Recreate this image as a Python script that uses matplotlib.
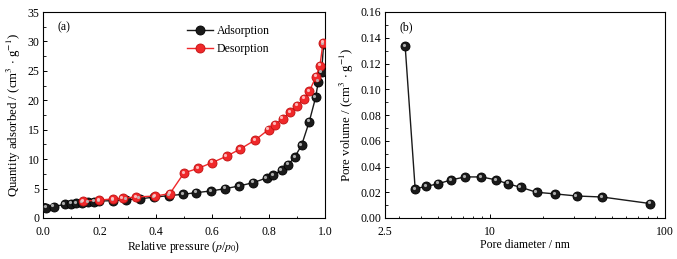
import matplotlib
matplotlib.use("Agg")
import matplotlib.pyplot as plt
import matplotlib.transforms as mtransforms
from matplotlib.ticker import MultipleLocator, FixedLocator, NullFormatter, LogLocator

plt.rcParams['font.family'] = ['Liberation Serif', 'DejaVu Serif']
plt.rcParams['mathtext.fontset'] = 'stix'

# Panel (a): N2 isotherm
ads_p = [0.012, 0.038, 0.077, 0.099, 0.118, 0.14, 0.16, 0.18, 0.20, 0.249, 0.296, 0.343,
         0.394, 0.447, 0.497, 0.544, 0.595, 0.647, 0.696, 0.746, 0.793, 0.817, 0.846,
         0.870, 0.893, 0.917, 0.944, 0.967, 0.976, 0.988, 0.995]
ads_q = [1.75, 1.95, 2.3, 2.4, 2.5, 2.62, 2.7, 2.8, 2.88, 2.95, 3.12, 3.25,
         3.55, 3.8, 4.03, 4.31, 4.59, 4.99, 5.45, 6.01, 6.81, 7.32, 8.11,
         9.08, 10.38, 12.37, 16.34, 20.53, 23.14, 24.79, 29.5]
des_p = [0.142, 0.199, 0.249, 0.282, 0.331, 0.398, 0.45, 0.50, 0.551, 0.60, 0.651,
         0.70, 0.753, 0.80, 0.823, 0.85, 0.876, 0.902, 0.925, 0.944, 0.968, 0.982, 0.993]
des_q = [2.84, 3.06, 3.23, 3.35, 3.57, 3.74, 4.14, 7.66, 8.45, 9.42, 10.49,
         11.74, 13.27, 15.03, 15.88, 16.9, 17.98, 19.1, 20.3, 21.5, 24.0, 25.9, 29.78]

# Panel (b): pore size distribution
pore_d = [3.26, 3.72, 4.30, 5.01, 5.98, 7.18, 8.88, 10.83, 12.64, 14.93, 18.4,
          23.6, 31.2, 43.7, 82.5]
pore_v = [0.1336, 0.0226, 0.0246, 0.0265, 0.0296, 0.0319, 0.0319, 0.0296, 0.0265,
          0.0239, 0.0200, 0.0187, 0.0171, 0.0163, 0.0112]

fig = plt.figure(figsize=(6.77, 2.59), dpi=100)
ax1 = fig.add_axes([43/677, 41/259, 282/677, 206/259])
ax2 = fig.add_axes([385/677, 41/259, 280/677, 206/259])

FS = 8.5
YFS = 9.3

def sphere(ax, x, y, color, edge, hl, label=None, ms=6.5, lw=1.0):
    ax.plot(x, y, '-', color=color, lw=lw, marker='o', ms=ms,
            mfc=color, mec=edge, mew=0.6, label=label, zorder=3)
    tr = mtransforms.offset_copy(ax.transData, fig=fig, x=-0.9, y=1.0, units='points')
    ax.plot(x, y, 'o', ms=ms*0.35, mfc=hl, mec='none', transform=tr, zorder=4, alpha=0.9)

sphere(ax1, ads_p, ads_q, '#1a1a1a', '#000000', '#bdbdbd', label='Adsorption')
sphere(ax1, des_p, des_q, '#f0282a', '#c01010', '#ffc8c8', label='Desorption')

ax1.set_xlim(0, 1.0)
ax1.set_ylim(0, 35)
ax1.xaxis.set_major_locator(MultipleLocator(0.2))
ax1.xaxis.set_minor_locator(MultipleLocator(0.1))
ax1.yaxis.set_major_locator(MultipleLocator(5))
ax1.yaxis.set_minor_locator(MultipleLocator(2.5))
ax1.xaxis.set_major_formatter(matplotlib.ticker.FormatStrFormatter('%.1f'))
ax1.set_xlabel(r'Relative pressure ($p$/$p_0$)', fontsize=FS, labelpad=1)
ax1.set_ylabel(r'Quantity adsorbed / (cm$^3$ $\cdot$ g$^{-1}$)', fontsize=YFS, labelpad=3)
ax1.text(0.05, 0.91, '(a)', transform=ax1.transAxes, fontsize=FS)
leg = ax1.legend(loc='upper left', bbox_to_anchor=(0.48, 0.975), frameon=False, fontsize=FS,
                 handlelength=2.2, handletextpad=0.35, labelspacing=0.45, borderaxespad=0.3)

sphere(ax2, pore_d, pore_v, '#1a1a1a', '#000000', '#bdbdbd')
ax2.set_xscale('log')
ax2.set_xlim(2.5, 100)
ax2.set_ylim(0, 0.16)
ax2.xaxis.set_major_locator(FixedLocator([2.5, 10, 100]))
ax2.xaxis.set_major_formatter(matplotlib.ticker.FixedFormatter(['2.5', '10', '100']))
ax2.xaxis.set_minor_locator(LogLocator(base=10, subs=range(2, 10)))
ax2.xaxis.set_minor_formatter(NullFormatter())
ax2.yaxis.set_major_locator(MultipleLocator(0.02))
ax2.yaxis.set_minor_locator(MultipleLocator(0.01))
ax2.yaxis.set_major_formatter(matplotlib.ticker.FormatStrFormatter('%.2f'))
ax2.set_xlabel('Pore diameter / nm', fontsize=FS, labelpad=1)
ax2.set_ylabel(r'Pore volume / (cm$^3$ $\cdot$ g$^{-1}$)', fontsize=YFS, labelpad=3)
ax2.text(0.05, 0.91, '(b)', transform=ax2.transAxes, fontsize=FS)

for ax in (ax1, ax2):
    ax.tick_params(which='both', direction='in', top=False, right=False, labelsize=FS)
    ax.tick_params(axis='x', which='both', pad=5.5)
    ax.tick_params(axis='y', which='both', pad=2.5)
    ax.tick_params(which='major', length=3, width=0.7)
    ax.tick_params(which='minor', length=1.8, width=0.6)
    for s in ax.spines.values():
        s.set_linewidth(0.8)

fig.savefig('out.png', dpi=100)
